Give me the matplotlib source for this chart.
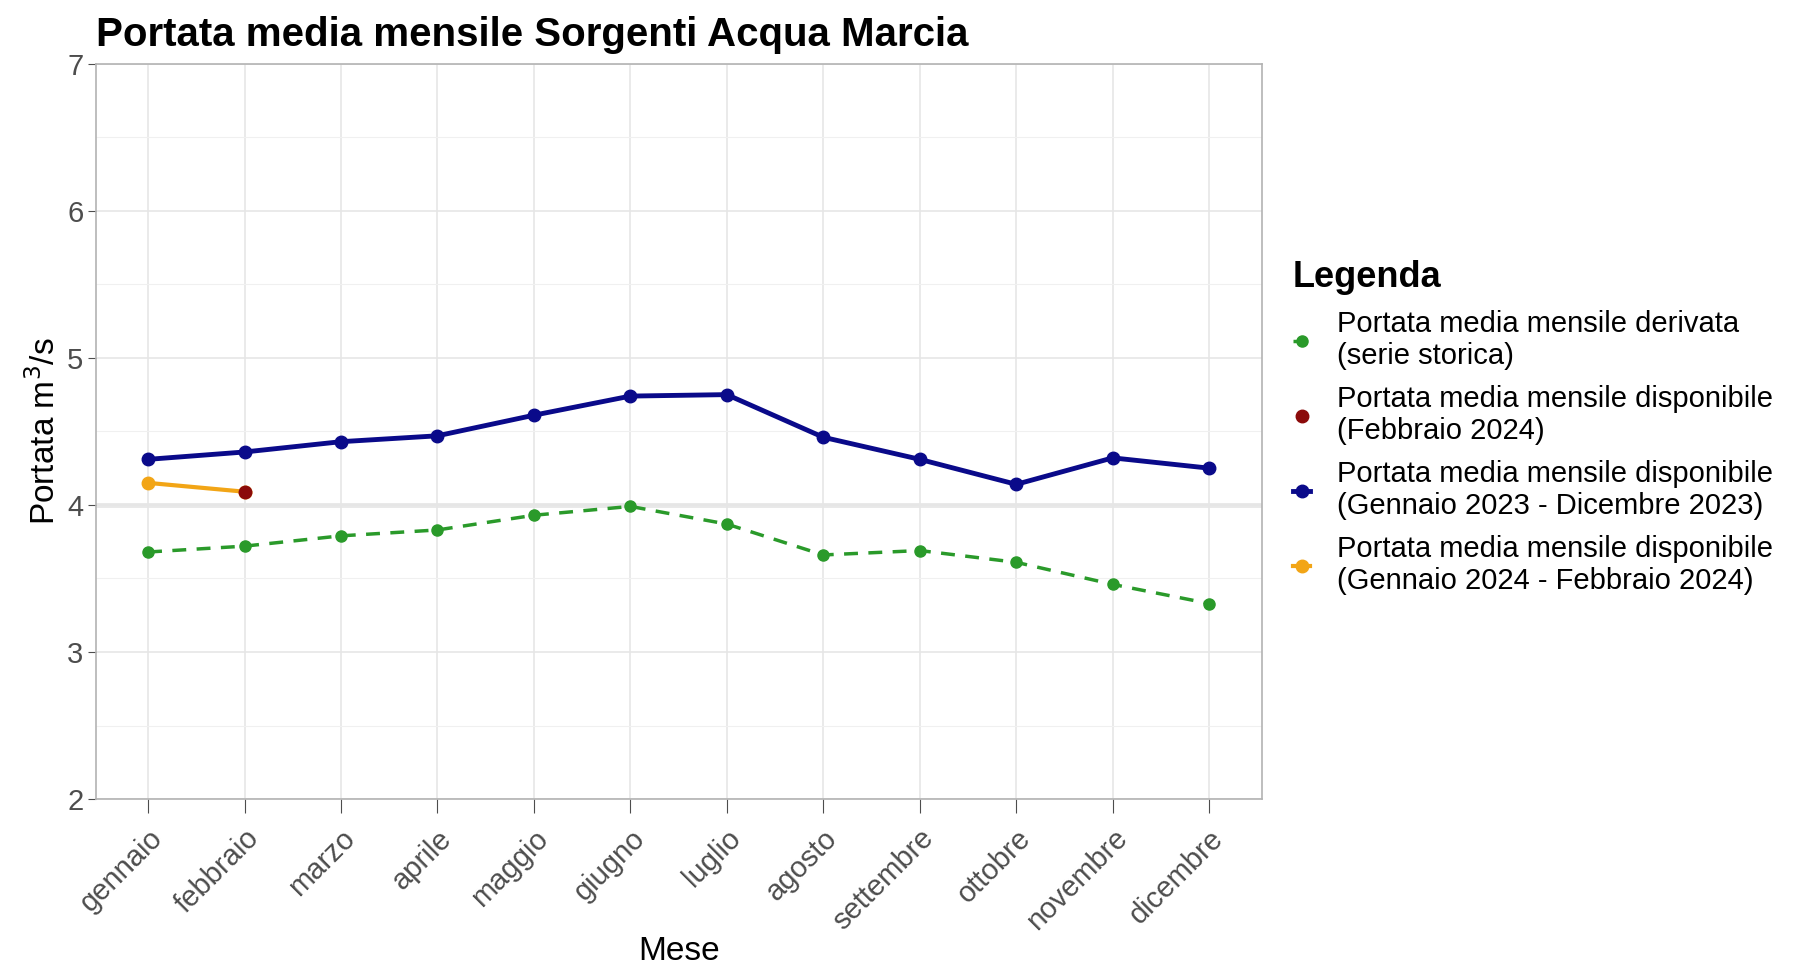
import matplotlib
matplotlib.use('agg')
import matplotlib.pyplot as plt
from matplotlib.ticker import MultipleLocator

plt.rcParams['font.family'] = ['Liberation Sans', 'DejaVu Sans']

mesi = ["gennaio", "febbraio", "marzo", "aprile", "maggio", "giugno",
        "luglio", "agosto", "settembre", "ottobre", "novembre", "dicembre"]
storica = [3.68, 3.72, 3.79, 3.83, 3.93, 3.99, 3.87, 3.66, 3.69, 3.61, 3.46, 3.33]
anno_2023 = [4.31, 4.36, 4.43, 4.47, 4.61, 4.74, 4.75, 4.46, 4.31, 4.14, 4.32, 4.25]
anno_2024 = [4.15, 4.09]
feb_2024 = [4.09]

lab_storica = "Portata media mensile derivata\n(serie storica)"
lab_feb = "Portata media mensile disponibile\n(Febbraio 2024)"
lab_2023 = "Portata media mensile disponibile\n(Gennaio 2023 - Dicembre 2023)"
lab_2024 = "Portata media mensile disponibile\n(Gennaio 2024 - Febbraio 2024)"

fig = plt.figure(figsize=(17.98, 9.64), dpi=100)
ax = fig.add_axes([0.0534, 0.171, 0.6486, 0.763])

x = list(range(len(mesi)))
h1, = ax.plot(x, storica, color="#2A9A2A", lw=2.5, ls=(0, (4, 3)), marker="o", ms=8, label=lab_storica, zorder=3)
h2, = ax.plot(x[1:2], feb_2024, color="#8B0A0A", lw=0, marker="o", ms=9, label=lab_feb, zorder=5)
h3, = ax.plot(x, anno_2023, color="#0A0A8A", lw=3.5, marker="o", ms=9, label=lab_2023, zorder=4)
h4, = ax.plot(x[:2], anno_2024, color="#F2A516", lw=3, marker="o", ms=9, label=lab_2024, zorder=4)

ax.set_xlim(-0.54, 11.55)
ax.set_ylim(2, 7)
ax.set_xticks(x)
ax.set_xticklabels(mesi, rotation=45, ha="right", rotation_mode="anchor", fontsize=21, color="#4d4d4d")
ax.yaxis.set_major_locator(MultipleLocator(1))
ax.yaxis.set_minor_locator(MultipleLocator(0.5))
ax.tick_params(axis="y", labelsize=21, labelcolor="#4d4d4d", length=6, color="#4d4d4d", pad=3)
ax.tick_params(axis="x", length=10, color="#4d4d4d", pad=8)
ax.tick_params(axis="y", which="minor", length=0)

ax.grid(which="major", color="#e6e6e6", lw=1.2)
ax.grid(which="minor", axis="y", color="#f0f0f0", lw=0.8)
ax.axhline(4, color="#e8e8e8", lw=3.5, zorder=0)
ax.set_axisbelow(True)
for s in ax.spines.values():
    s.set_color("#b3b3b3")
    s.set_linewidth(1.2)

ax.set_xlabel("Mese", fontsize=24, labelpad=0)
ax.set_ylabel("Portata m$^3$/s", fontsize=24, labelpad=4)
ax.set_title("Portata media mensile Sorgenti Acqua Marcia", loc="left", fontsize=29,
             fontweight="bold", pad=13)

leg = fig.legend(handles=[h1, h2, h3, h4], loc="upper left", bbox_to_anchor=(0.711, 0.745),
                 frameon=False, fontsize=21, title="Legenda", handlelength=0.6,
                 labelspacing=0.5, handletextpad=0.9, borderpad=0)
leg.get_title().set_fontsize(26)
leg.get_title().set_fontweight("bold")
leg._legend_box.align = "left"

fig.savefig("out.png", dpi=100)
